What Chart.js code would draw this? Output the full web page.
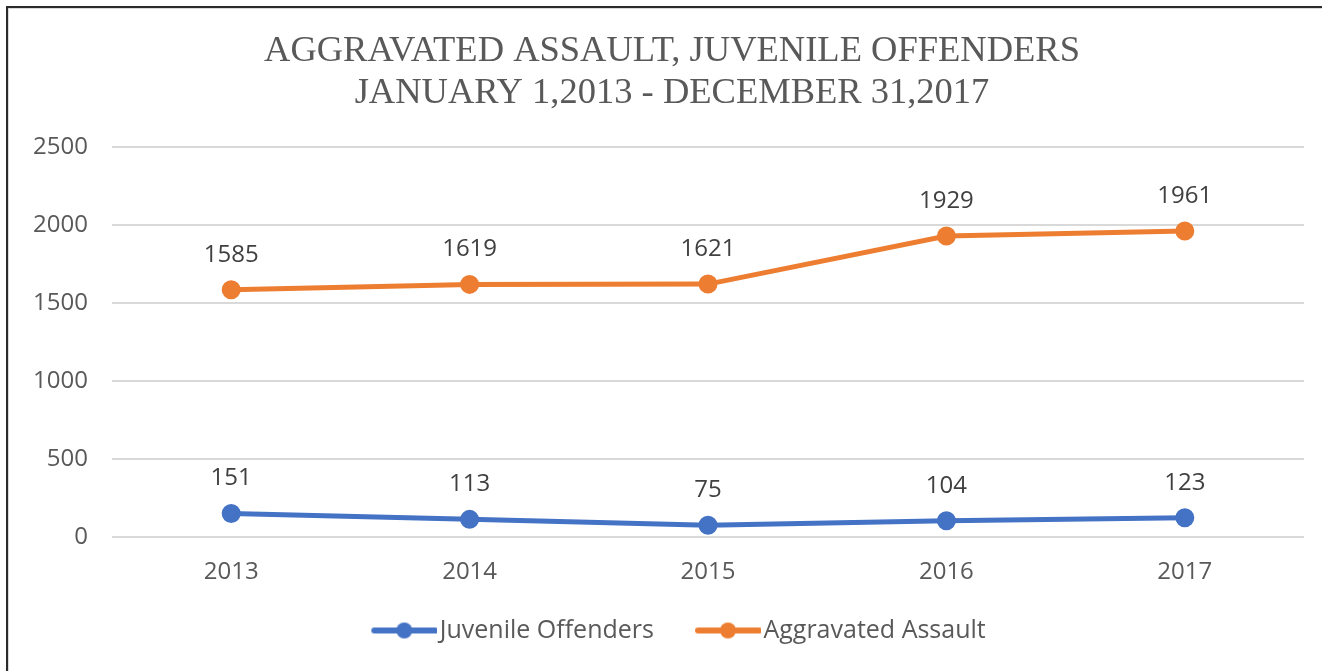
<!DOCTYPE html>
<html>
<head>
<meta charset="utf-8">
<script src="https://cdn.jsdelivr.net/npm/chart.js@4"></script>
<style>
  html, body { margin: 0; padding: 0; background: #fff; overflow: hidden; }
  #frame {
    position: absolute; left: 6px; top: 6px; width: 1400px; height: 800px;
    border-left: 2px solid #2b2b2b; border-top: 2px solid #2b2b2b;
    box-shadow: inset 1px 1px 0 #d9d9d9;
  }
  #wrap { position: absolute; left: 0; top: 0; width: 1322px; height: 671px; }
</style>
</head>
<body>
<div id="frame"></div>
<div id="wrap"><canvas id="myChart" width="1322" height="671"></canvas></div>
<script>
// chart data
const years = ['2013', '2014', '2015', '2016', '2017'];
const juvenileOffenders = [151, 113, 75, 104, 123];
const aggravatedAssault = [1585, 1619, 1621, 1929, 1961];
const yTicks = [0, 500, 1000, 1500, 2000, 2500];

const blue = '#4472C4';
const orange = '#ED7D31';
const grey = '#595959';

// legend marker: line with a dot, drawn on a small canvas
// (left part is left empty so the line sits right before the text)
function legendMarker(color) {
    const c = document.createElement('canvas');
    c.width = 89;
    c.height = 18;
    const g = c.getContext('2d');
    g.strokeStyle = color;
    g.lineWidth = 6;
    g.lineCap = 'round';
    g.beginPath();
    g.moveTo(26, 9);
    g.lineTo(87, 9);
    g.stroke();
    g.fillStyle = color;
    g.beginPath();
    g.arc(56, 9, 8, 0, Math.PI * 2);
    g.fill();
    return c;
}

// value labels above each point
const valueLabels = {
    id: 'valueLabels',
    afterDatasetsDraw(chart) {
        const ctx = chart.ctx;
        ctx.save();
        ctx.font = '24px "Open Sans"';
        ctx.fillStyle = '#404040';
        ctx.textAlign = 'center';
        ctx.textBaseline = 'middle';
        chart.data.datasets.forEach((ds, i) => {
            chart.getDatasetMeta(i).data.forEach((pt, j) => {
                ctx.fillText(ds.data[j], pt.x, pt.y - 35);
            });
        });
        ctx.restore();
    }
};

// title and legend are centred on the whole frame, not only the plot
const shiftBlocks = {
    id: 'shiftBlocks',
    afterLayout(chart) {
        if (chart.titleBlock) chart.titleBlock.left += 40;
        if (chart.legend) chart.legend.left += 40;
    }
};

const ctx = document.getElementById('myChart').getContext('2d');
const myChart = new Chart(ctx, {
    type: 'line',
    data: {
        labels: years,
        datasets: [
            {
                label: 'Juvenile Offenders',
                data: juvenileOffenders,
                borderColor: blue,
                backgroundColor: blue,
                borderWidth: 5,
                pointRadius: 7,
                pointHoverRadius: 7,
                pointStyle: 'circle',
                fill: false,
            },
            {
                label: 'Aggravated Assault',
                data: aggravatedAssault,
                borderColor: orange,
                backgroundColor: orange,
                borderWidth: 5,
                pointRadius: 7,
                pointHoverRadius: 7,
                pointStyle: 'circle',
                fill: false,
            },
        ],
    },
    options: {
        responsive: false,
        animation: false,
        devicePixelRatio: 1,
        layout: { padding: { left: 0, right: 18, top: 0, bottom: 18 } },
        scales: {
            x: {
                offset: true,
                grid: { display: false, drawTicks: false },
                border: { display: false },
                ticks: { color: grey, font: { family: 'Open Sans', size: 24 }, padding: 21 },
                afterFit(scale) { scale.height = 53; },
            },
            y: {
                min: 0,
                max: 2500,
                afterBuildTicks(scale) { scale.ticks = yTicks.map(v => ({ value: v })); },
                grid: { color: '#d9d9d9', lineWidth: 2, drawTicks: false },
                border: { display: false },
                ticks: {
                    color: grey,
                    font: { family: 'Open Sans', size: 24 },
                    padding: 24,
                    callback: v => String(v),
                },
                afterFit(scale) { scale.width = 112; },
            },
        },
        plugins: {
            title: {
                display: true,
                text: ['AGGRAVATED ASSAULT, JUVENILE OFFENDERS', 'JANUARY 1,2013 - DECEMBER 31,2017'],
                color: grey,
                font: { family: 'Liberation Serif', size: 36.5, weight: 'normal', lineHeight: 1.15 },
                padding: { top: 30, bottom: 33 },
            },
            legend: {
                position: 'bottom',
                labels: {
                    color: grey,
                    font: { family: 'Open Sans', size: 25 },
                    usePointStyle: true,
                    pointStyleWidth: 69,
                    padding: 28,
                    generateLabels(chart) {
                        return chart.data.datasets.map((ds, i) => ({
                            text: ds.label,
                            fillStyle: ds.borderColor,
                            strokeStyle: ds.borderColor,
                            fontColor: grey,
                            lineWidth: 0,
                            pointStyle: legendMarker(ds.borderColor),
                            hidden: false,
                            datasetIndex: i,
                        }));
                    },
                },
            },
            tooltip: { enabled: false },
        },
    },
    plugins: [valueLabels, shiftBlocks],
});
</script>
</body>
</html>
